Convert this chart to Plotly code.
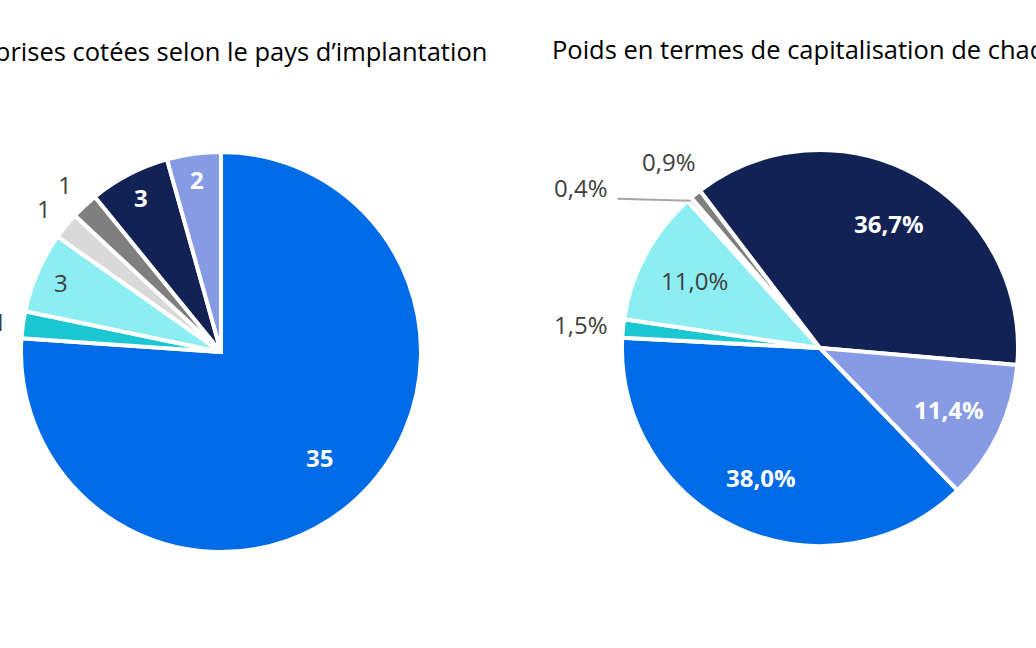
import math
import plotly.graph_objects as go

# Data
countries = ["Pays A", "Pays B", "Pays C", "Pays D", "Pays E", "Pays F", "Pays G"]
nb_entreprises = [35, 1, 3, 1, 1, 3, 2]
poids_capi = [38.0, 1.5, 11.0, 0.4, 0.9, 36.7, 11.4]
labels_left = [str(v) for v in nb_entreprises]
labels_right = [f"{v:.1f}%".replace(".", ",") for v in poids_capi]
colors = ["#006BE6", "#1BC7D2", "#8CEEF2", "#D9D9D9", "#7F7F7F", "#132255", "#869BE3"]
title_left = "Nombre d’entreprises cotées selon le pays d’implantation"
title_right = "Poids en termes de capitalisation de chaque pays"

FONT = "Open Sans"
LBL_SIZE = 24
txt_out = [False, True, False, True, True, False, False]
txt_col = ["white", "#404040", "#404040", "#404040", "#404040", "white", "white"]
txt_bold = [True, False, False, False, False, True, True]
leader_right = [False, False, False, True, False, False, False]

W, H = 1036, 648


def dom(cx, cy, r):
    return dict(x=[(cx - r) / W, (cx + r) / W], y=[1 - (cy + r) / H, 1 - (cy - r) / H])


def text_w(s, size):
    w = 0
    for ch in s:
        w += 0.26 if ch == "," else 0.84 if ch == "%" else 0.572
    return w * size


fig = go.Figure()


def add_pie(values, texts, cx, cy, r, rot, leaders):
    fig.add_trace(go.Pie(
        labels=countries, values=values, sort=False, direction="clockwise", rotation=rot,
        marker=dict(colors=colors, line=dict(color="white", width=4)),
        textinfo="none", domain=dom(cx, cy, r), hoverinfo="label+value",
    ))
    total = sum(values)
    start = rot
    for i, v in enumerate(values):
        frac = v / total
        mid = math.radians(start + frac * 180)
        start += frac * 360
        s, c = math.sin(mid), math.cos(mid)
        txt = texts[i]
        font = dict(family=FONT, size=LBL_SIZE, color=txt_col[i],
                    weight="bold" if txt_bold[i] else "normal")
        if leaders[i]:
            ex, ey = cx + (r - 2) * s, cy - (r - 2) * c
            lx = ex - 73
            fig.add_shape(type="line", xref="paper", yref="paper",
                          x0=ex / W, y0=1 - ey / H, x1=lx / W, y1=1 - (ey - 2) / H,
                          line=dict(color="#A6A6A6", width=2))
            fig.add_annotation(text=txt, xref="paper", yref="paper", x=(lx - 8) / W,
                               y=1 - (ey - 13) / H, xanchor="right", yanchor="middle",
                               showarrow=False, font=font)
            continue
        if txt_out[i]:
            d = r + 14 + text_w(txt, LBL_SIZE) / 2 * abs(s) + 14 * abs(c)
        else:
            d = r * (0.87 if frac < 0.1 else 0.72)
        px, py = cx + d * s, cy - d * c
        fig.add_annotation(text=txt, xref="paper", yref="paper", x=px / W, y=1 - py / H,
                           xanchor="center", yanchor="middle", showarrow=False, font=font)


add_pie(nb_entreprises, labels_left, 221, 352, 200, 0, [False] * 7)
add_pie(poids_capi, labels_right, 820, 348, 198, 136, leader_right)

fig.add_annotation(text=title_left, xref="paper", yref="paper", x=489 / W, y=1 - 51 / H,
                   xanchor="right", yanchor="middle", showarrow=False,
                   font=dict(family=FONT, size=25.5, color="black"))
fig.add_annotation(text=title_right, xref="paper", yref="paper", x=550 / W, y=1 - 49 / H,
                   xanchor="left", yanchor="middle", showarrow=False,
                   font=dict(family=FONT, size=25.5, color="black"))

fig.update_layout(width=W, height=H, margin=dict(l=0, r=0, t=0, b=0),
                  showlegend=False, paper_bgcolor="white", plot_bgcolor="white")
fig.write_html("out.html")
